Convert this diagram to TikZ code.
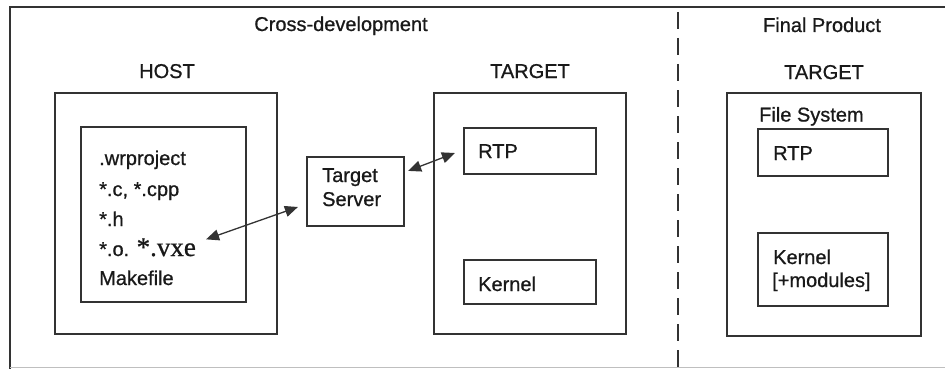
\documentclass[tikz,border=0pt]{standalone}
\usepackage{fontspec}
\setmainfont[FakeBold=0.8]{Liberation Sans}
\newfontfamily\vxefont[FakeBold=0.8]{Liberation Serif}
\usetikzlibrary{arrows.meta}
\begin{document}
\begin{tikzpicture}[x=1pt,y=-1pt,
  every node/.style={font=\fontsize{20}{24}\selectfont, text=black!90},
  box/.style={draw=black!80, line width=2.2pt, inner sep=0pt, rectangle},
  lbl/.style={anchor=base west, inner sep=0pt},
  ttl/.style={anchor=base, inner sep=0pt},
  link/.style={draw=black!80, line width=1.3pt, {Triangle[length=13pt,width=11pt]}-{Triangle[length=13pt,width=11pt]}}
]
\useasboundingbox (0,0) rectangle (945,369);

% outer frame and divider
\draw[black!80, line width=2pt] (10,369) -- (10,7) -- (945,7);
\draw[black!25, line width=1pt] (10,367) -- (945,367);
\draw[black!80, line width=2.2pt, dash pattern=on 17pt off 9pt] (678,12) -- (678,369);

% section titles
\node[ttl] (tcross) at (341,31) {Cross-development};
\node[ttl] (tfinal) at (822,32) {Final Product};
\node[ttl] (thost) at (167,78) {HOST};
\node[ttl] (ttgt) at (530,78) {TARGET};
\node[ttl] (tfin) at (824,79) {TARGET};

% host side
\node[box, minimum width=222pt, minimum height=241pt] (host) at (166,213.5) {};
\node[box, minimum width=165pt, minimum height=175pt] (proj) at (163.5,214.5) {};
\node[lbl] (f1) at (99,165) {.wrproject};
\node[lbl] (f2) at (99,196) {*.c, *.cpp};
\node[lbl] (f3) at (99,226) {*.h};
\node[lbl] (f4) at (99,256) {*.o. {\vxefont\fontsize{27}{30}\selectfont *.vxe}};
\node[lbl] (f5) at (99,285) {Makefile};

% target server
\node[box, minimum width=97pt, minimum height=69pt] (ts) at (355.5,191.5) {};
\node[lbl] (ts1) at (322,182) {Target};
\node[lbl] (ts2) at (322,206) {Server};

% cross-development target
\node[box, minimum width=192pt, minimum height=241pt] (tgt) at (530,213.5) {};
\node[box, minimum width=132pt, minimum height=46pt] (rtp1) at (530,151) {};
\node[lbl] (rtp1t) at (478,158) {RTP};
\node[box, minimum width=132pt, minimum height=44pt] (kern1) at (530,282) {};
\node[lbl] (kern1t) at (478,291) {Kernel};

% final product target
\node[box, minimum width=194pt, minimum height=243pt] (fin) at (824,214.5) {};
\node[lbl] (fs) at (759,121.5) {File System};
\node[box, minimum width=130pt, minimum height=47pt] (rtp2) at (823,152.5) {};
\node[lbl] (rtp2t) at (773,160) {RTP};
\node[box, minimum width=130pt, minimum height=73pt] (kern2) at (823,269.5) {};
\node[lbl] (kern2t) at (773,264) {Kernel};
\node[lbl] (kern2m) at (772,287) {[+modules]};

% connections
\draw[link] ([xshift=10pt,yshift=8pt]f4.east) -- ([xshift=-8pt,yshift=-15.5pt]ts.west);
\draw[link] ([xshift=3pt,yshift=-15pt]ts.north east) -- ([xshift=-8pt,yshift=-2pt]rtp1.west);
\end{tikzpicture}
\end{document}
